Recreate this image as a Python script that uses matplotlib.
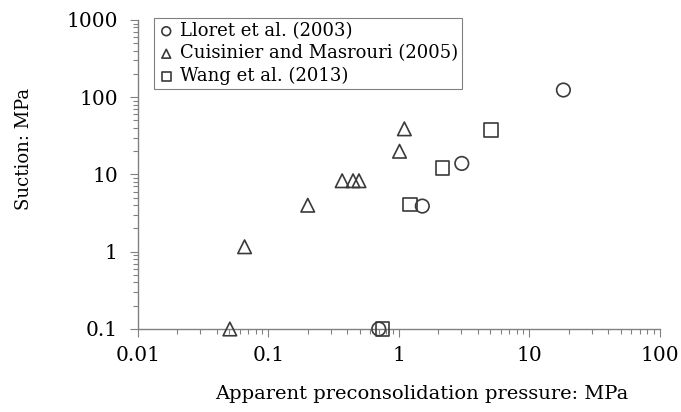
import matplotlib.pyplot as plt

# Lloret et al. (2003)
lloret_x = [18.2, 3.03, 1.51, 0.70]
lloret_y = [124, 13.9, 3.9, 0.1]

# Cuisinier and Masrouri (2005)
cuis_x = [1.10, 1.01, 0.367, 0.445, 0.494, 0.20, 0.0656, 0.0506]
cuis_y = [39, 20, 8.3, 8.3, 8.3, 4.0, 1.16, 0.1]

# Wang et al. (2013)
wang_x = [5.06, 2.15, 1.22, 0.748]
wang_y = [37.6, 12.2, 4.1, 0.1]

plt.rcParams['font.family'] = ['DejaVu Serif']
ec = '#3a3a3a'

fig = plt.figure(figsize=(6.81, 4.12), dpi=100)
ax = fig.add_axes([0.2026, 0.2015, 0.7665, 0.75])

kw = dict(facecolor='none', edgecolors=ec, linewidths=1.2, s=95, clip_on=False, zorder=3)
ax.scatter(lloret_x, lloret_y, marker='o', label='Lloret et al. (2003)', **kw)
ax.scatter(cuis_x, cuis_y, marker='^', label='Cuisinier and Masrouri (2005)', **kw)
ax.scatter(wang_x, wang_y, marker='s', label='Wang et al. (2013)', **kw)

ax.set_xscale('log')
ax.set_yscale('log')
ax.set_xlim(0.01, 100)
ax.set_ylim(0.1, 1000)
ax.set_xticks([0.01, 0.1, 1, 10, 100])
ax.set_xticklabels(['0.01', '0.1', '1', '10', '100'])
ax.set_yticks([0.1, 1, 10, 100, 1000])
ax.set_yticklabels(['0.1', '1', '10', '100', '1000'])

for s in ['top', 'right']:
    ax.spines[s].set_visible(False)
for s in ['left', 'bottom']:
    ax.spines[s].set_color('#808080')
    ax.spines[s].set_linewidth(1.0)

ax.tick_params(which='major', length=5.5, width=0.8, color='#808080', labelsize=14.5)
ax.tick_params(axis='y', which='major', pad=9)
ax.tick_params(axis='x', which='major', pad=7)
ax.tick_params(which='minor', length=3.5, width=0.8, color='#808080')

ax.set_xlabel('Apparent preconsolidation pressure: MPa', fontsize=14)
ax.set_ylabel('Suction: MPa', fontsize=13)
ax.xaxis.set_label_coords(0.544, -0.181)
ax.yaxis.set_label_coords(-0.201, 0.583)

leg = ax.legend(loc='upper left', bbox_to_anchor=(0.031, 1.0065), fontsize=13,
                markerscale=0.65, handletextpad=0.3, handlelength=0.9,
                borderpad=0.22, labelspacing=0.25, borderaxespad=0,
                fancybox=False, framealpha=1)
leg.get_frame().set_edgecolor('#808080')
leg.get_frame().set_linewidth(0.8)

fig.savefig('out.png', dpi=100)
